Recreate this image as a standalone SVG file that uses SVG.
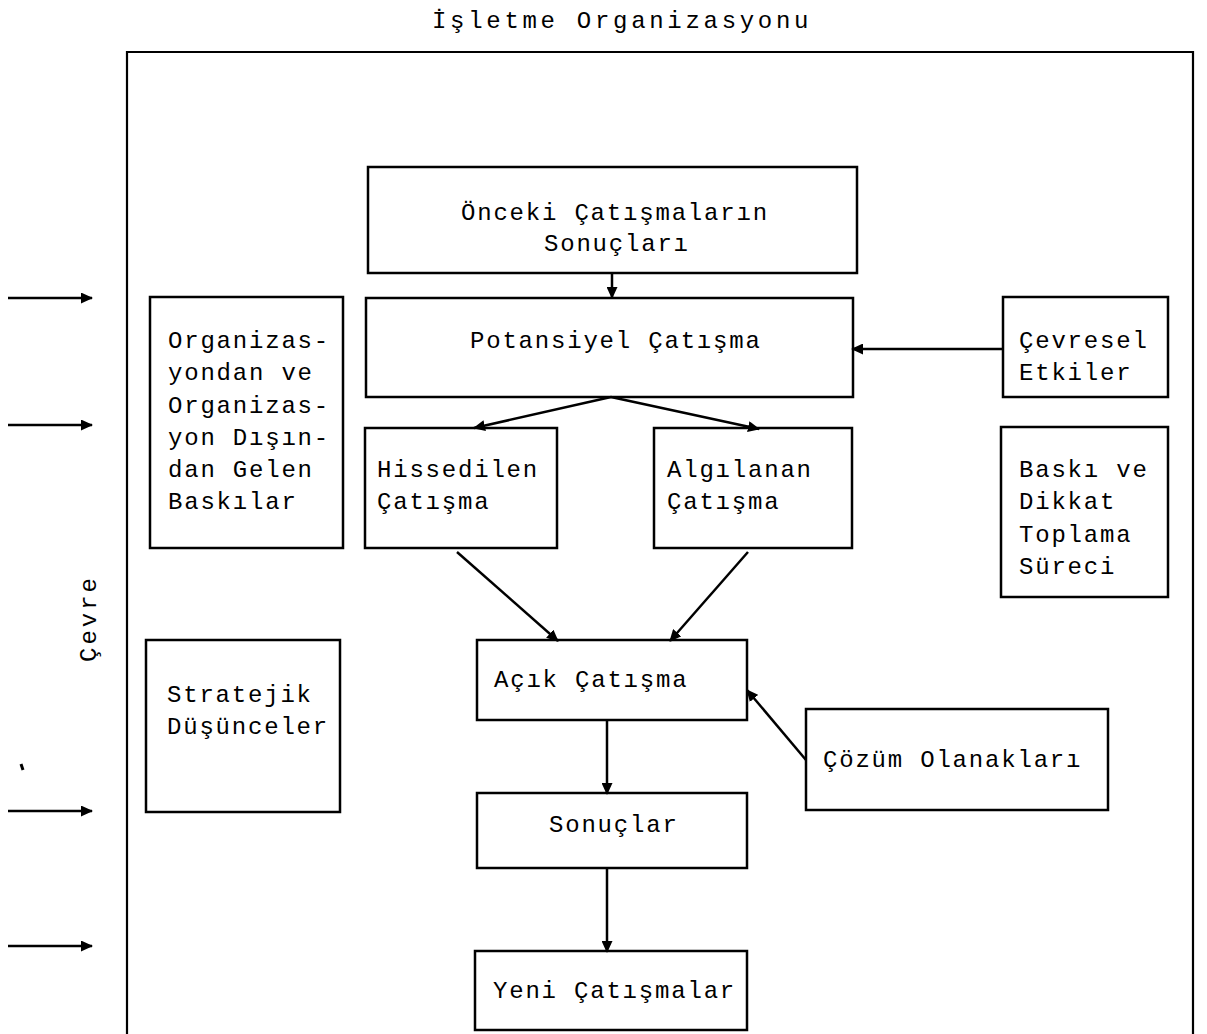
<svg xmlns="http://www.w3.org/2000/svg" width="1207" height="1034" viewBox="0 0 1207 1034">
<defs>
<style>
.bx{fill:none;stroke:#000;stroke-width:2.5}
.t{font-family:"Liberation Mono","DejaVu Sans Mono",monospace;font-size:24px;letter-spacing:1.8px;fill:#000}
.ln{fill:none;stroke:#000;stroke-width:2.5}
</style>
<marker id="ah" markerWidth="13" markerHeight="11" refX="11" refY="5.5" orient="auto" markerUnits="userSpaceOnUse">
<path d="M0,0 L12,5.5 L0,11 Z" fill="#000"/>
</marker>
</defs>
<rect width="1207" height="1034" fill="#fff"/>
<g id="title"><text class="t" x="432" y="28" style="letter-spacing:3.7px">İşletme Organizasyonu</text></g>
<g id="frame"><path d="M127,1034 V52 H1193 V1034" fill="none" stroke="#000" stroke-width="2.2"/></g>
<g id="cevre"><text class="t" transform="translate(96,662) rotate(-90)" style="letter-spacing:3px">Çevre</text></g>
<g id="n-onceki"><rect class="bx" x="368" y="167" width="489" height="106"/><text class="t" x="461" y="220">Önceki Çatışmaların</text><text class="t" x="544" y="251">Sonuçları</text></g>
<g id="n-potansiyel"><rect class="bx" x="366" y="298" width="487" height="99"/><text class="t" x="470" y="348">Potansiyel Çatışma</text></g>
<g id="n-baskilar"><rect class="bx" x="150" y="297" width="193" height="251"/><text class="t" x="168" y="348">Organizas-</text><text class="t" x="168" y="380">yondan ve</text><text class="t" x="168" y="413">Organizas-</text><text class="t" x="168" y="445">yon Dışın-</text><text class="t" x="168" y="477">dan Gelen</text><text class="t" x="168" y="509">Baskılar</text></g>
<g id="n-hissedilen"><rect class="bx" x="365" y="428" width="192" height="120"/><text class="t" x="377" y="477">Hissedilen</text><text class="t" x="377" y="509">Çatışma</text></g>
<g id="n-algilanan"><rect class="bx" x="654" y="428" width="198" height="120"/><text class="t" x="667" y="477">Algılanan</text><text class="t" x="667" y="509">Çatışma</text></g>
<g id="n-cevresel"><rect class="bx" x="1003" y="297" width="165" height="100"/><text class="t" x="1019" y="348">Çevresel</text><text class="t" x="1019" y="380">Etkiler</text></g>
<g id="n-baski"><rect class="bx" x="1001" y="427" width="167" height="170"/><text class="t" x="1019" y="477">Baskı ve</text><text class="t" x="1019" y="509">Dikkat</text><text class="t" x="1019" y="542">Toplama</text><text class="t" x="1019" y="574">Süreci</text></g>
<g id="n-stratejik"><rect class="bx" x="146" y="640" width="194" height="172"/><text class="t" x="167" y="702">Stratejik</text><text class="t" x="167" y="734">Düşünceler</text></g>
<g id="n-acik"><rect class="bx" x="477" y="640" width="270" height="80"/><text class="t" x="494" y="687">Açık Çatışma</text></g>
<g id="n-cozum"><rect class="bx" x="806" y="709" width="302" height="101"/><text class="t" x="823" y="767">Çözüm Olanakları</text></g>
<g id="n-sonuclar"><rect class="bx" x="477" y="793" width="270" height="75"/><text class="t" x="549" y="832">Sonuçlar</text></g>
<g id="n-yeni"><rect class="bx" x="475" y="951" width="272" height="79"/><text class="t" x="493" y="998">Yeni Çatışmalar</text></g>
<g id="connectors">
<line class="ln" x1="612" y1="273" x2="612" y2="298" marker-end="url(#ah)"/>
<line class="ln" x1="611" y1="397" x2="474" y2="428" marker-end="url(#ah)"/>
<line class="ln" x1="611" y1="397" x2="759" y2="429" marker-end="url(#ah)"/>
<line class="ln" x1="1003" y1="349" x2="852" y2="349" marker-end="url(#ah)"/>
<line class="ln" x1="457" y1="552" x2="558" y2="641" marker-end="url(#ah)"/>
<line class="ln" x1="748" y1="552" x2="670" y2="641" marker-end="url(#ah)"/>
<line class="ln" x1="806" y1="760" x2="747" y2="690" marker-end="url(#ah)"/>
<line class="ln" x1="607" y1="720" x2="607" y2="794" marker-end="url(#ah)"/>
<line class="ln" x1="607" y1="868" x2="607" y2="952" marker-end="url(#ah)"/>
<line class="ln" x1="8" y1="298" x2="92" y2="298" marker-end="url(#ah)"/>
<line class="ln" x1="8" y1="425" x2="92" y2="425" marker-end="url(#ah)"/>
<line class="ln" x1="8" y1="811" x2="92" y2="811" marker-end="url(#ah)"/>
<line class="ln" x1="8" y1="946" x2="92" y2="946" marker-end="url(#ah)"/>
<path d="M21,764 L23,770" stroke="#000" stroke-width="3"/>
</g>
</svg>
